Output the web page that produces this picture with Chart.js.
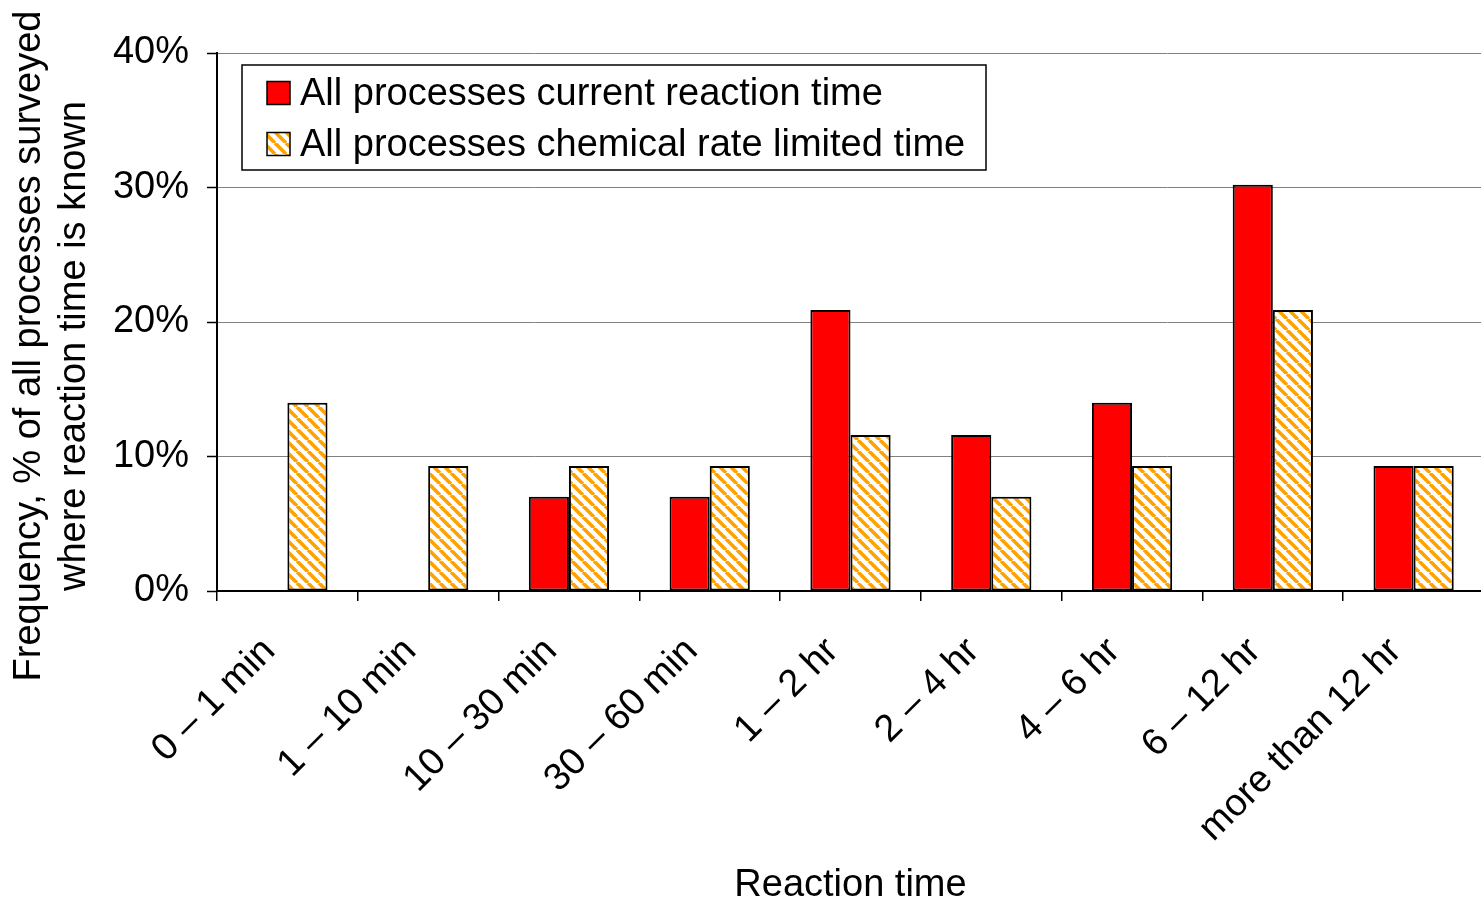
<!DOCTYPE html>
<html>
<head>
<meta charset="utf-8">
<script src="https://cdn.jsdelivr.net/npm/chart.js@4.4.1/dist/chart.umd.min.js"></script>
<style>
  html, body { margin: 0; padding: 0; background: #fff; overflow: hidden; }
  /* plot runs a few pixels past the right edge, as in the reference */
  #wrap { width: 1484px; height: 903px; }
</style>
</head>
<body>
<div id="wrap"><canvas id="chart"></canvas></div>
<script>
// Data
const categories = [
  '0 \u2013 1 min', '1 \u2013 10 min', '10 \u2013 30 min', '30 \u2013 60 min',
  '1 \u2013 2 hr', '2 \u2013 4 hr', '4 \u2013 6 hr', '6 \u2013 12 hr', 'more than 12 hr'
];
const currentTime  = [0, 0, 7.0, 7.0, 20.9, 11.6, 14.0, 30.2, 9.3];
const chemicalTime = [14.0, 9.3, 9.3, 9.3, 11.6, 7.0, 9.3, 20.9, 9.3];
const seriesLabels = [
  'All processes current reaction time',
  'All processes chemical rate limited time'
];
const yMin = 0, yMax = 40, yStep = 10;
const yTitleLines = ['Frequency, % of all processes surveyed', 'where reaction time is known'];
const xTitle = 'Reaction time';

const FONT = "'Liberation Sans', Arial, sans-serif";
const RED = '#FF0000';
const ORANGE = '#FFA200';

const canvas = document.getElementById('chart');
const ctx = canvas.getContext('2d');

// diagonal orange hatch on white
function hatchPattern() {
  const s = 11;
  const t = document.createElement('canvas');
  t.width = s; t.height = s;
  const g = t.getContext('2d');
  g.fillStyle = '#fff';
  g.fillRect(0, 0, s, s);
  g.strokeStyle = ORANGE;
  g.lineWidth = 3.6;
  g.beginPath();
  for (const k of [-s, 0, s]) { g.moveTo(k, 0); g.lineTo(k + s, s); }
  g.stroke();
  return ctx.createPattern(t, 'repeat');
}
const HATCH = hatchPattern();

// boxed legend inside the plot area
const boxLegend = {
  id: 'boxLegend',
  afterDraw(chart) {
    const c = chart.ctx, a = chart.chartArea;
    const x = a.left + 25, y = a.top + 12, w = 744, h = 105;
    c.save();
    c.fillStyle = '#fff';
    c.fillRect(x, y, w, h);
    c.strokeStyle = '#000';
    c.lineWidth = 1.5;
    c.strokeRect(x, y, w, h);
    c.font = '38px ' + FONT;
    c.textBaseline = 'middle';
    c.textAlign = 'left';
    chart.data.datasets.forEach((ds, i) => {
      const cy = y + 28 + i * 51;
      c.fillStyle = ds.backgroundColor;
      c.fillRect(x + 25, cy - 11.5, 23, 23);
      c.strokeStyle = '#000';
      c.lineWidth = 1.5;
      c.strokeRect(x + 25, cy - 11.5, 23, 23);
      c.fillStyle = '#000';
      c.fillText(ds.label, x + 58, cy + 2);
    });
    c.restore();
  }
};

// two-line rotated y title
const yTitle = {
  id: 'yTitle',
  afterDraw(chart) {
    const c = chart.ctx, a = chart.chartArea;
    c.save();
    c.translate(0, (a.top + a.bottom) / 2 + 24);
    c.rotate(-Math.PI / 2);
    c.font = '38px ' + FONT;
    c.fillStyle = '#000';
    c.textAlign = 'center';
    c.textBaseline = 'middle';
    yTitleLines.forEach((t, i) => c.fillText(t, 0, 30 + i * 45));
    c.restore();
  }
};

new Chart(canvas, {
  type: 'bar',
  data: {
    labels: categories,
    datasets: [
      {
        label: seriesLabels[0],
        data: currentTime,
        backgroundColor: RED,
        borderColor: '#000',
        borderWidth: 2,
        borderSkipped: false,
        categoryPercentage: 0.57,
        barPercentage: 1.0,
      },
      {
        label: seriesLabels[1],
        data: chemicalTime,
        backgroundColor: HATCH,
        borderColor: '#000',
        borderWidth: 2,
        borderSkipped: false,
        categoryPercentage: 0.57,
        barPercentage: 1.0,
      },
    ],
  },
  options: {
    responsive: true,
    maintainAspectRatio: false,
    animation: false,
    layout: { padding: { top: 53, left: 0, right: 0, bottom: 0 } },
    plugins: {
      legend: { display: false },
      tooltip: { enabled: false },
    },
    scales: {
      x: {
        grid: {
          offset: true,
          drawOnChartArea: false,
          drawTicks: true,
          tickLength: 10,
          color: '#000',
          lineWidth: 1.5,
        },
        border: { color: '#000', width: 2 },
        ticks: {
          autoSkip: false,
          maxRotation: 45,
          minRotation: 45,
          padding: 28,
          labelOffset: -18,
          color: '#000',
          font: { family: FONT, size: 38 },
        },
        title: {
          display: true,
          text: xTitle,
          color: '#000',
          font: { family: FONT, size: 38, lineHeight: 0.9 },
          padding: 0,
        },
        afterFit(scale) { scale.height = 312; },
      },
      y: {
        min: yMin,
        max: yMax,
        grid: {
          color: '#808080',
          lineWidth: 1,
          tickLength: 10,
          tickColor: '#000',
          tickWidth: 1.5,
        },
        border: { color: '#000', width: 2 },
        ticks: {
          stepSize: yStep,
          padding: 18,
          color: '#000',
          font: { family: FONT, size: 38 },
          callback: v => v + '%',
        },
        afterFit(scale) { scale.width = 217; },
      },
    },
  },
  plugins: [boxLegend, yTitle],
});
</script>
</body>
</html>
